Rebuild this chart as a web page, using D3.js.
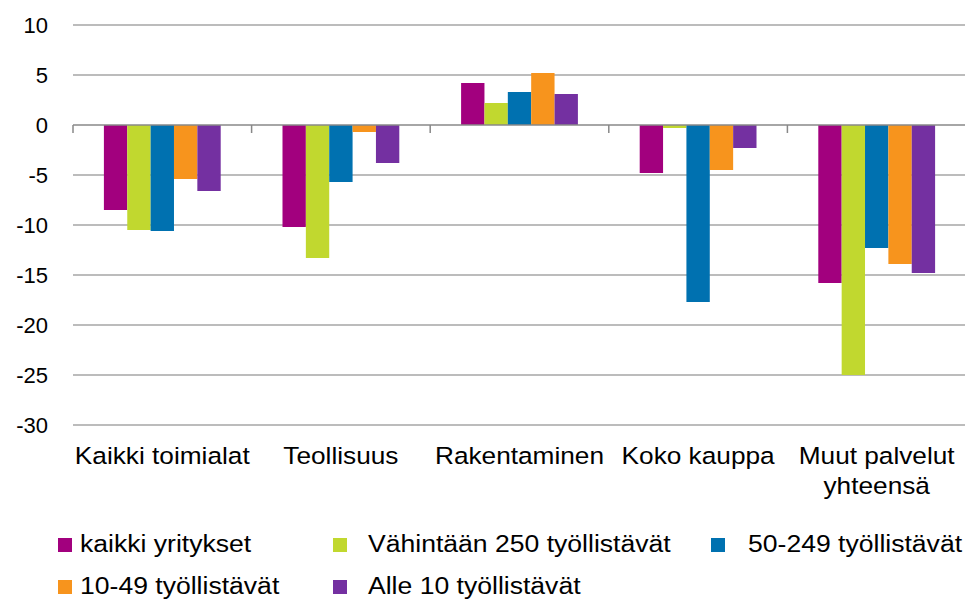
<!DOCTYPE html>
<html>
<head>
<meta charset="utf-8">
<script src="https://cdn.jsdelivr.net/npm/d3@7"></script>
<style>
  body { margin: 0; background: #fff; }
  svg { font-family: "Liberation Sans", Arial, sans-serif; }
</style>
</head>
<body>
<svg id="chart"></svg>
<script>
const categories = ["Kaikki toimialat", "Teollisuus", "Rakentaminen", "Koko kauppa", "Muut palvelut\nyhteensä"];
const seriesNames = ["kaikki yritykset", "Vähintään 250 työllistävät", "50-249 työllistävät", "10-49 työllistävät", "Alle 10 työllistävät"];
const colors = ["#a2007e", "#c1d82f", "#0071b0", "#f7941d", "#7430a1"];
const kaikki = [-8.5, -10.2, 4.2, -4.8, -15.8];
const vahintaan250 = [-10.5, -13.3, 2.2, -0.3, -25.0];
const keski50 = [-10.6, -5.7, 3.3, -17.7, -12.3];
const pieni10 = [-5.4, -0.7, 5.2, -4.5, -13.9];
const alle10 = [-6.6, -3.8, 3.1, -2.3, -14.8];
const yTicks = [10, 5, 0, -5, -10, -15, -20, -25, -30];

const series = [kaikki, vahintaan250, keski50, pieni10, alle10];

const width = 965;
const height = 599;
const plotLeft = 73, plotRight = 966, plotTop = 25, plotBottom = 425;

const svg = d3.select("#chart").attr("width", width).attr("height", height);

const x = d3.scaleBand().domain(categories).range([plotLeft, plotRight]).padding(0);
const groupW = x.bandwidth() * 0.654;
const xs = d3.scaleBand().domain(d3.range(series.length)).range([0, groupW]).padding(0);
const y = d3.scaleLinear().domain([-30, 10]).range([plotBottom, plotTop]);

// the source picture's text is a little wider than Arial
const stretch = (sel, k) => sel.each(function () {
  const w = this.getComputedTextLength();
  d3.select(this).attr("textLength", w * k).attr("lengthAdjust", "spacingAndGlyphs");
});

// gridlines
svg.append("g")
  .selectAll("line")
  .data(yTicks.filter(d => d !== 0))
  .enter()
  .append("line")
  .attr("x1", plotLeft).attr("x2", plotRight)
  .attr("y1", d => y(d)).attr("y2", d => y(d))
  .attr("stroke", "#a6a6a6")
  .attr("stroke-width", 1.5);

// y labels
svg.append("g")
  .selectAll("text")
  .data(yTicks)
  .enter()
  .append("text")
  .attr("x", 48)
  .attr("y", d => y(d))
  .attr("dy", "0.36em")
  .attr("text-anchor", "end")
  .attr("font-size", 22)
  .attr("fill", "#000")
  .text(d => d);

// bars
series.forEach((vals, i) => {
  svg.append("g")
    .selectAll("rect")
    .data(vals)
    .enter()
    .append("rect")
    .attr("x", (d, j) => x(categories[j]) + (x.bandwidth() - groupW) / 2 + xs(i))
    .attr("y", d => y(Math.max(0, d)))
    .attr("width", xs.bandwidth())
    .attr("height", d => Math.abs(y(d) - y(0)))
    .attr("fill", colors[i]);
});

// zero axis with tick marks
const axis = svg.append("g").attr("transform", `translate(0,${y(0)})`);
axis.append("line")
  .attr("x1", plotLeft).attr("x2", plotRight)
  .attr("stroke", "#888").attr("stroke-width", 1.5);
axis.selectAll(".tk")
  .data(categories.map(c => x(c)).concat([plotRight]))
  .enter()
  .append("line")
  .attr("x1", d => d).attr("x2", d => d)
  .attr("y1", 0).attr("y2", 8)
  .attr("stroke", "#888").attr("stroke-width", 1.5);

// category labels
const catLines = [];
categories.forEach(c => c.split("\n").forEach((line, k) => catLines.push({ c, line, k })));
svg.append("g")
  .selectAll("text")
  .data(catLines)
  .enter()
  .append("text")
  .attr("text-anchor", "middle")
  .attr("font-size", 24.5)
  .attr("fill", "#000")
  .attr("x", d => x(d.c) + x.bandwidth() / 2)
  .attr("y", d => 464 + d.k * 30)
  .text(d => d.line)
  .call(stretch, 1.07);

// legend
const legendPos = [[58, 552], [333, 552], [711, 552], [58, 594], [333, 594]];
const textOff = [22, 35, 37, 22, 35];
const lg = svg.append("g");
seriesNames.forEach((name, i) => {
  const [lx, ly] = legendPos[i];
  lg.append("rect")
    .attr("x", lx).attr("y", ly - 14)
    .attr("width", 14).attr("height", 14)
    .attr("fill", colors[i]);
  lg.append("text")
    .attr("x", lx + textOff[i])
    .attr("y", ly)
    .attr("font-size", 23.5)
    .attr("fill", "#000")
    .text(name)
    .call(stretch, 1.13);
});
</script>
</body>
</html>
